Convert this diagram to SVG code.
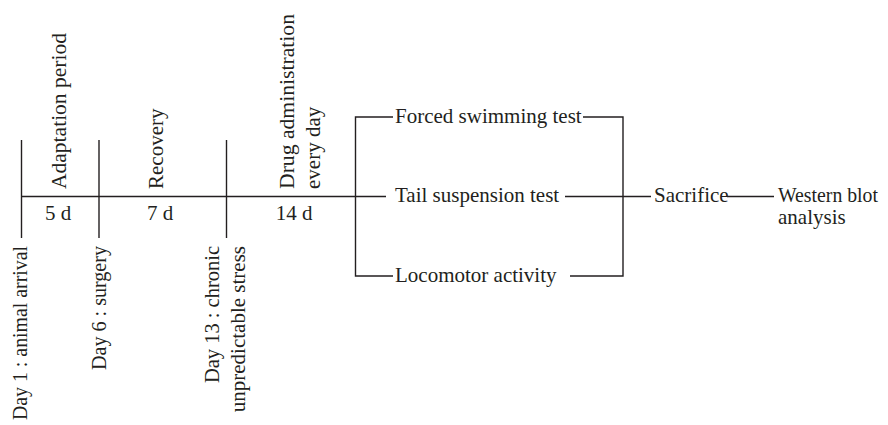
<svg xmlns="http://www.w3.org/2000/svg" width="888" height="425" viewBox="0 0 888 425">
<style>
.t{font-family:"Liberation Serif","Times New Roman",serif;font-size:21px;fill:#231f20}
.l{fill:none;stroke:#231f20;stroke-width:1.4}
.m{text-anchor:middle}
.e{text-anchor:end}
</style>
<rect width="888" height="425" fill="#fff"/>
<g id="connectors">
<path class="l" d="M21.5 196.5H386"/>
<path class="l" d="M21.5 140V238"/>
<path class="l" d="M99 140V238"/>
<path class="l" d="M226.5 140V238"/>
<path class="l" d="M393 117H355.5V276H393"/>
<path class="l" d="M583 117H623V276H570"/>
<path class="l" d="M565 196.5H651"/>
<path class="l" d="M727 196.5H774"/>
</g>
<g id="adaptation"><text class="t" transform="translate(66,189) rotate(-90)" textLength="156" lengthAdjust="spacingAndGlyphs">Adaptation period</text><text class="t m" x="58" y="220">5 d</text></g>
<g id="recovery"><text class="t" transform="translate(163,189) rotate(-90)">Recovery</text><text class="t m" x="160" y="220">7 d</text></g>
<g id="drug"><text class="t" transform="translate(294,189) rotate(-90)" textLength="175" lengthAdjust="spacingAndGlyphs">Drug administration</text><text class="t" transform="translate(320,189) rotate(-90)">every day</text><text class="t m" x="294" y="220">14 d</text></g>
<g id="day1"><text class="t e" transform="translate(27,246) rotate(-90)" textLength="174" lengthAdjust="spacingAndGlyphs">Day 1 : animal arrival</text></g>
<g id="day6"><text class="t e" transform="translate(106,246) rotate(-90)" textLength="124" lengthAdjust="spacingAndGlyphs">Day 6 : surgery</text></g>
<g id="day13"><text class="t e" transform="translate(219,246) rotate(-90)" textLength="137" lengthAdjust="spacingAndGlyphs">Day 13 : chronic</text><text class="t e" transform="translate(245,246) rotate(-90)">unpredictable stress</text></g>
<g id="fst"><text class="t" x="395" y="122.5">Forced swimming test</text></g>
<g id="tst"><text class="t" x="395" y="201.5">Tail suspension test</text></g>
<g id="loco"><text class="t" x="395" y="281.5">Locomotor activity</text></g>
<g id="sacrifice"><text class="t" x="654" y="201.5">Sacrifice</text></g>
<g id="western"><text class="t" x="778" y="201.5" textLength="100" lengthAdjust="spacingAndGlyphs">Western blot</text><text class="t" x="778" y="223.5">analysis</text></g>
</svg>
